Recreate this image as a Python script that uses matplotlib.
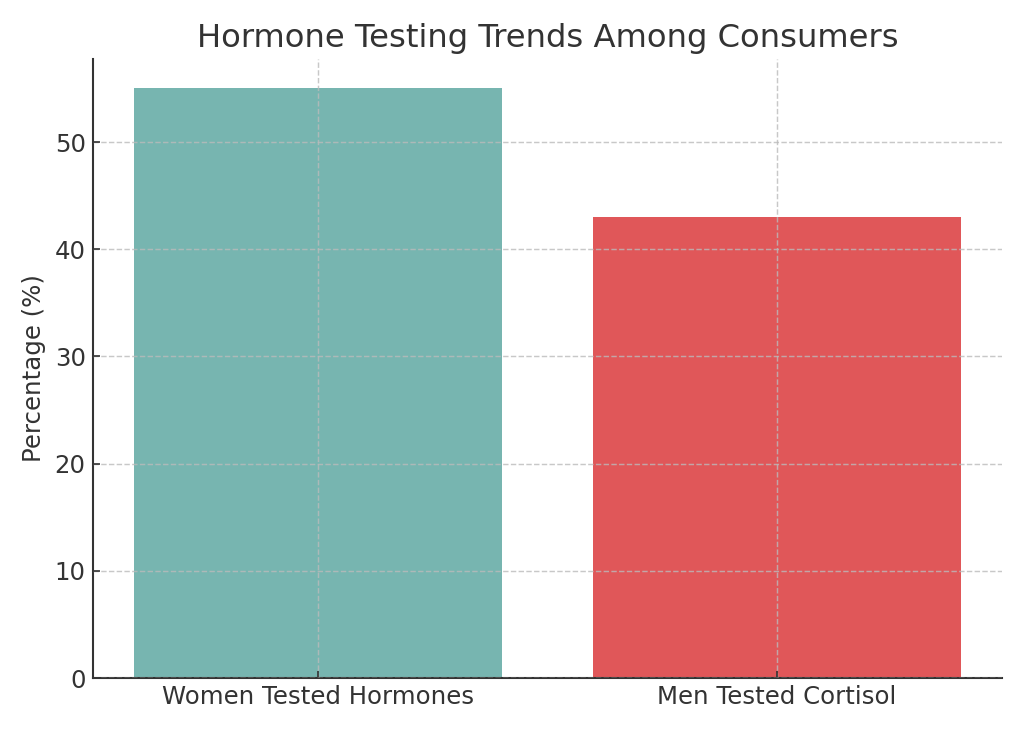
import matplotlib.pyplot as plt

# Dados
categories = ["Women Tested Hormones", "Men Tested Cortisol"]
percentages = [55, 43]
bar_colors = ["#77b5b0", "#e05759"]

text_color = "#333333"

fig, ax = plt.subplots(figsize=(1024 / 150, 731 / 150), dpi=150)

ax.bar(categories, percentages, color=bar_colors, width=0.8)

ax.set_title("Hormone Testing Trends Among Consumers", fontsize=15.5, color=text_color)
ax.set_ylabel("Percentage (%)", fontsize=11.7, color=text_color)
ax.tick_params(axis="both", direction="in", labelsize=11.7, labelcolor=text_color, color=text_color)

ax.grid(True, linestyle="--", color="#bbbbbb", linewidth=0.7, alpha=0.8)
ax.set_axisbelow(False)

for side in ["top", "right"]:
    ax.spines[side].set_visible(False)
for side in ["left", "bottom"]:
    ax.spines[side].set_color(text_color)
    ax.spines[side].set_linewidth(1.0)

plt.tight_layout()
plt.subplots_adjust(left=93 / 1024, right=1002 / 1024, top=1 - 59 / 731, bottom=1 - 678 / 731)
plt.savefig("out.png")
